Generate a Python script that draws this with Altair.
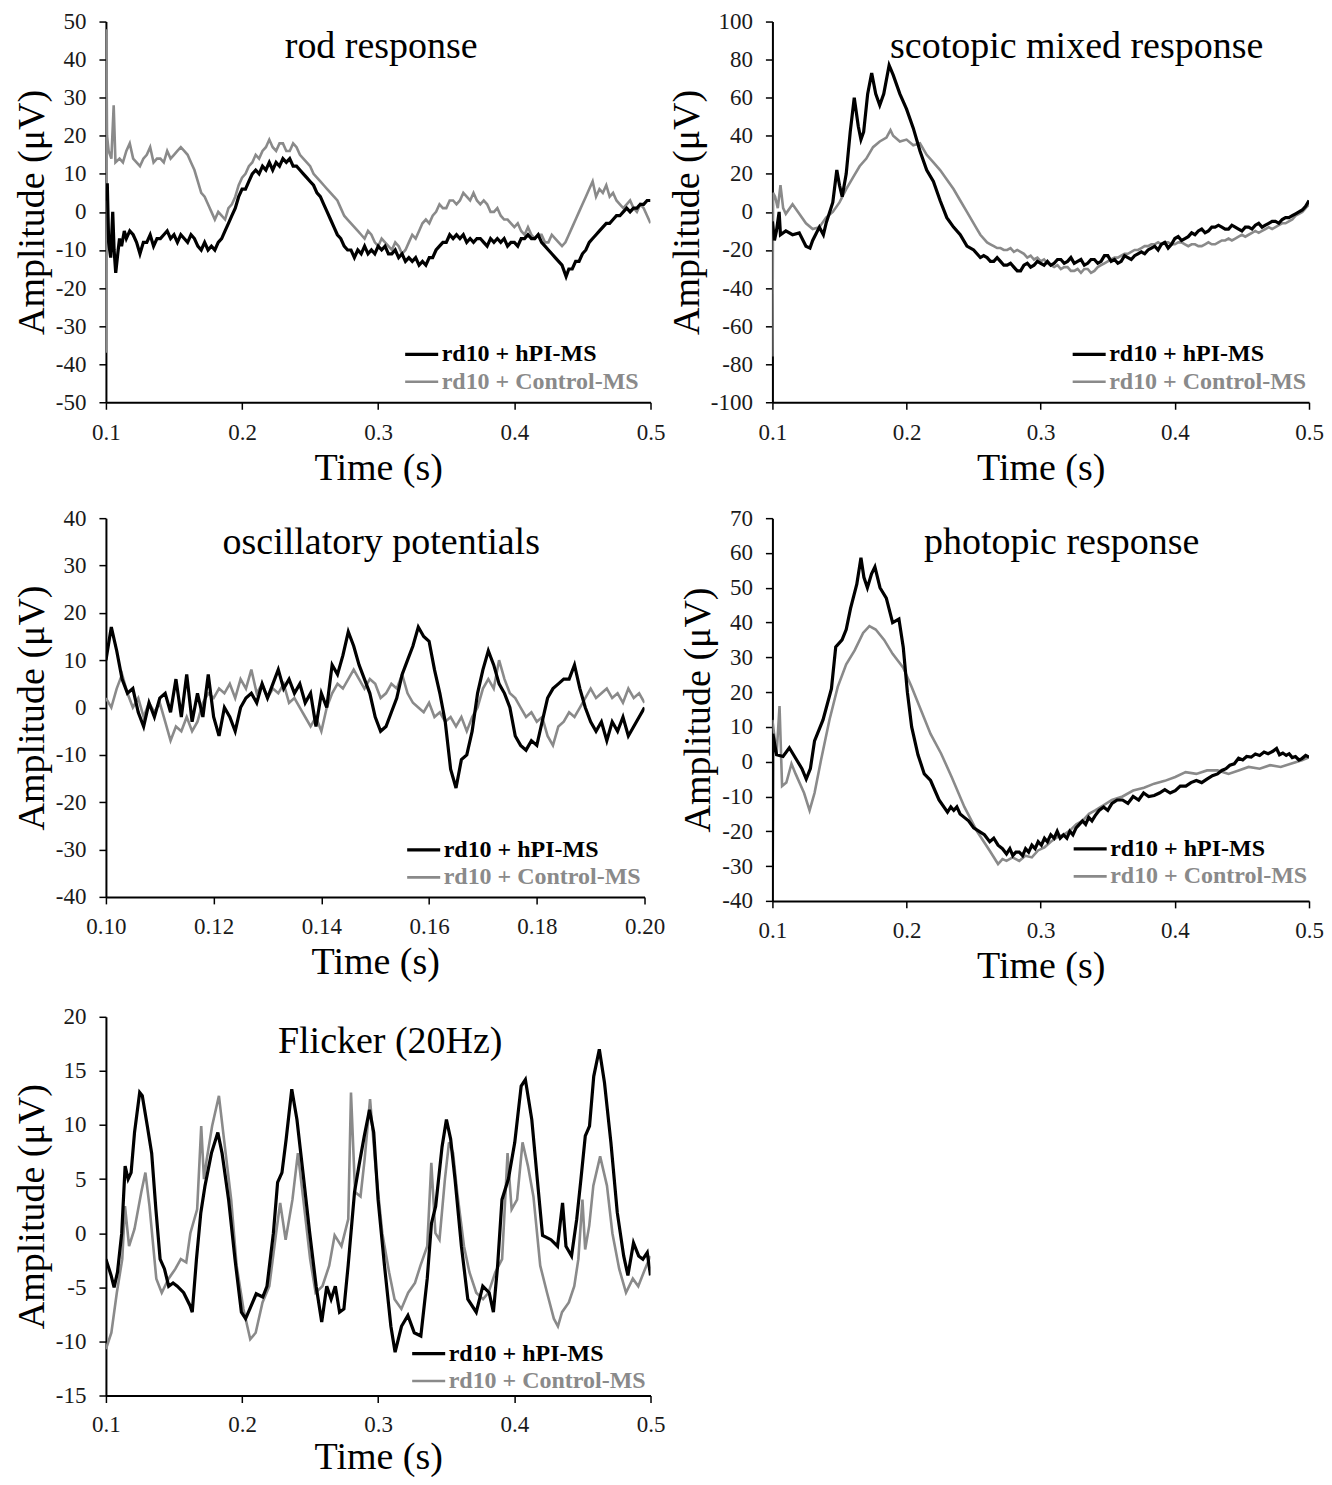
import altair as alt
import pandas as pd

FONT = "Liberation Serif"
SERIES = ["rd10 + hPI-MS", "rd10 + Control-MS"]
COLORS = ["#000000", "#8a8a8a"]
WIDTHS = [3.2, 2.6]

# ---------------- rod response ----------------
rod_hpi = [(0.100,3),(0.101,7.5),(0.102,-8),(0.1035,-12),(0.105,0),(0.106,-10),(0.1072,-16),(0.109,-10),
           (0.110,-7),(0.1115,-9),(0.1135,-5),(0.115,-7),(0.1175,-5),(0.120,-6),(0.1225,-8),(0.125,-11),
           (0.1275,-8),(0.130,-8),(0.1325,-6),(0.135,-9),(0.1375,-7),(0.140,-7),(0.1425,-6),(0.145,-5),
           (0.1475,-7),(0.150,-6),(0.1525,-8),(0.155,-6),(0.1575,-7),(0.160,-8),(0.1625,-6),(0.165,-7),
           (0.1675,-9),(0.170,-10),(0.1725,-8),(0.175,-10),(0.1775,-9),(0.180,-10),(0.1825,-8),(0.185,-7),
           (0.1875,-5),(0.190,-3),(0.1925,-1),(0.195,1),(0.1975,4),(0.200,6),(0.2025,6),(0.205,8),
           (0.2075,10),(0.210,11),(0.2125,10),(0.215,12),(0.2175,11),(0.220,13),(0.2225,11),(0.225,13),
           (0.2275,12),(0.230,14),(0.2325,13),(0.235,14),(0.2375,12),(0.240,12),(0.2425,11),(0.245,10),
           (0.2475,9),(0.250,8),(0.2525,7),(0.255,5),(0.2575,4),(0.260,2),(0.2625,0),(0.265,-2),
           (0.2675,-4),(0.270,-6),(0.2725,-7),(0.275,-9),(0.2775,-10),(0.280,-10),(0.2825,-12),(0.285,-10),
           (0.2875,-11),(0.290,-9),(0.2925,-11),(0.295,-10),(0.2975,-11),(0.300,-9),(0.3025,-10),(0.305,-9),
           (0.3075,-11),(0.310,-11),(0.3125,-10),(0.315,-12),(0.3175,-11),(0.320,-13),(0.3225,-12),(0.325,-13),
           (0.3275,-12),(0.330,-14),(0.3325,-13),(0.335,-14),(0.3375,-12),(0.340,-12),(0.3425,-10),(0.345,-9),
           (0.3475,-8),(0.350,-8),(0.3525,-6),(0.355,-7),(0.3575,-6),(0.360,-7),(0.3625,-6),(0.365,-8),
           (0.3675,-7),(0.370,-8),(0.3725,-7),(0.375,-7),(0.3775,-8),(0.380,-9),(0.3825,-7),(0.385,-8),
           (0.3875,-7),(0.390,-8),(0.3925,-7),(0.395,-9),(0.3975,-8),(0.400,-8),(0.4025,-9),(0.405,-7),
           (0.4075,-7),(0.410,-6),(0.4125,-7),(0.415,-7),(0.4175,-6),(0.420,-8),(0.4225,-9),(0.425,-10),
           (0.4275,-11),(0.430,-12),(0.4325,-13),(0.435,-14),(0.438,-17),(0.440,-15),(0.4425,-15),(0.445,-13),
           (0.4475,-13),(0.450,-11),(0.4525,-10),(0.455,-8),(0.4575,-7),(0.460,-6),(0.4625,-5),(0.465,-4),
           (0.4675,-3),(0.470,-3),(0.4725,-2),(0.475,-1),(0.4775,-1),(0.480,0),(0.4825,1),(0.485,0),
           (0.4875,1),(0.490,1),(0.4925,2),(0.495,2),(0.4975,3),(0.500,3)]
rod_ctrl = [(0.100,-37),(0.1003,48),(0.1008,20),(0.102,16),(0.104,14),(0.1057,28),(0.107,13),(0.110,14),
            (0.1125,13),(0.115,16),(0.1175,18),(0.120,14),(0.1225,13),(0.125,12),(0.1275,14),(0.130,15),
            (0.1325,17),(0.135,13),(0.1375,14),(0.140,14),(0.1425,13),(0.145,16),(0.1475,14),(0.150,15),
            (0.1525,16),(0.155,17),(0.1575,16),(0.160,15),(0.1625,13),(0.165,11),(0.1675,8),(0.170,5),
            (0.1725,4),(0.175,2),(0.1775,0),(0.180,-2),(0.1825,0),(0.185,-1),(0.1875,-2),(0.190,1),
            (0.1925,2),(0.195,4),(0.1975,7),(0.200,9),(0.2025,10),(0.205,12),(0.2075,13),(0.210,15),
            (0.2125,14),(0.215,16),(0.2175,17),(0.220,19),(0.2225,17),(0.225,16),(0.2275,18),(0.230,18),
            (0.2325,16),(0.235,16),(0.2375,18),(0.240,17),(0.2425,15),(0.245,14),(0.2475,13),(0.250,12),
            (0.2525,10),(0.255,9),(0.2575,8),(0.260,7),(0.2625,6),(0.265,5),(0.2675,4),(0.270,3),
            (0.2725,1),(0.275,-1),(0.2775,-2),(0.280,-3),(0.2825,-4),(0.285,-5),(0.2875,-6),(0.290,-7),
            (0.2925,-5),(0.295,-6),(0.2975,-8),(0.300,-9),(0.3025,-7),(0.305,-8),(0.3075,-9),(0.310,-10),
            (0.3125,-8),(0.315,-9),(0.3175,-11),(0.320,-10),(0.3225,-8),(0.325,-6),(0.3275,-7),(0.330,-5),
            (0.3325,-3),(0.335,-2),(0.3375,-3),(0.340,-1),(0.3425,0),(0.345,2),(0.3475,1),(0.350,1),
            (0.3525,3),(0.355,3),(0.3575,2),(0.360,3),(0.3625,5),(0.365,4),(0.3675,3),(0.370,5),
            (0.3725,3),(0.375,2),(0.3775,3),(0.380,2),(0.3825,0),(0.385,0),(0.3875,1),(0.390,-1),
            (0.3925,-2),(0.395,-2),(0.3975,-3),(0.400,-4),(0.4025,-3),(0.405,-5),(0.4075,-6),(0.410,-4),
            (0.4125,-6),(0.415,-7),(0.4175,-6),(0.420,-6),(0.4225,-8),(0.425,-8),(0.4275,-6),(0.430,-7),
            (0.4325,-8),(0.435,-9),(0.4375,-8),(0.440,-6),(0.4425,-4),(0.445,-2),(0.4475,0),(0.450,2),
            (0.4525,4),(0.455,6),(0.4575,8),(0.460,4),(0.4625,6),(0.465,5),(0.4675,7),(0.470,4),
            (0.4725,5),(0.475,3),(0.4775,2),(0.480,1),(0.4825,2),(0.485,3),(0.4875,1),(0.490,0),
            (0.4925,2),(0.495,1),(0.4975,-1),(0.500,-3)]

# ---------------- scotopic mixed response ----------------
sco_hpi = [(0.100,-5),(0.1015,-15),(0.103,-10),(0.105,0),(0.106,-12),(0.110,-10),(0.115,-12),(0.120,-11),
           (0.125,-18),(0.128,-19),(0.130,-15),(0.135,-8),(0.138,-12),(0.140,-6),(0.145,5),(0.148,22),
           (0.150,14),(0.152,8),(0.155,20),(0.158,42),(0.161,60),(0.164,45),(0.166,38),(0.168,42),
           (0.171,62),(0.174,73),(0.177,62),(0.180,56),(0.183,62),(0.187,77),(0.190,72),(0.195,62),
           (0.200,54),(0.205,44),(0.210,32),(0.215,22),(0.220,16),(0.225,6),(0.230,-3),(0.235,-8),
           (0.240,-12),(0.245,-18),
           (0.250,-20),(0.2525,-22),(0.255,-24),(0.2575,-23),(0.260,-24),(0.2625,-26),(0.265,-26),(0.2675,-24),
           (0.270,-26),(0.2725,-28),(0.275,-28),(0.2775,-27),(0.280,-29),(0.2825,-31),(0.285,-31),(0.2875,-28),
           (0.290,-27),(0.2925,-29),(0.295,-28),(0.2975,-26),(0.300,-27),(0.3025,-28),(0.305,-26),(0.3075,-28),
           (0.310,-27),(0.3125,-25),(0.315,-25),(0.3175,-27),(0.320,-26),(0.3225,-24),(0.325,-27),(0.3275,-26),
           (0.330,-25),(0.3325,-28),(0.335,-27),(0.3375,-25),(0.340,-25),(0.3425,-27),(0.345,-26),(0.3475,-23),
           (0.350,-23),(0.3525,-26),(0.355,-25),(0.3575,-27),(0.360,-26),(0.3625,-23),(0.365,-24),(0.3675,-25),
           (0.370,-23),(0.3725,-22),(0.375,-21),(0.3775,-22),(0.380,-20),(0.3825,-19),(0.385,-18),(0.3875,-20),
           (0.390,-17),(0.3925,-16),(0.395,-19),(0.3975,-17),(0.400,-14),(0.4025,-13),(0.405,-15),(0.4075,-14),
           (0.410,-13),(0.4125,-11),(0.415,-12),(0.4175,-10),(0.420,-9),(0.4225,-11),(0.425,-10),(0.4275,-8),
           (0.430,-8),(0.4325,-7),(0.435,-8),(0.4375,-9),(0.440,-9),(0.4425,-7),(0.445,-8),(0.4475,-9),
           (0.450,-10),(0.4525,-8),(0.455,-8),(0.4575,-9),(0.460,-7),(0.4625,-6),(0.465,-8),(0.4675,-7),
           (0.470,-6),(0.4725,-5),(0.475,-5),(0.4775,-6),(0.480,-4),(0.4825,-3),(0.485,-3),(0.4875,-2),
           (0.490,-1),(0.4925,0),(0.495,1),(0.4975,3),(0.500,6)]
sco_ctrl = [(0.100,-76),(0.1005,10),(0.102,8),(0.104,2),(0.106,14),(0.108,2),(0.110,-1),(0.115,4),
            (0.120,-1),(0.125,-6),(0.130,-9),(0.135,-8),(0.140,-3),(0.145,0),(0.150,5),(0.155,12),
            (0.160,18),(0.165,24),(0.170,28),(0.175,34),(0.180,37),(0.185,39),(0.188,43),(0.190,40),
            (0.195,37),(0.200,38),(0.205,35),(0.210,36),(0.215,30),(0.220,26),(0.225,22),(0.230,17),
            (0.235,12),(0.240,6),(0.245,0),
            (0.250,-6),(0.2525,-9),(0.255,-12),(0.2575,-14),(0.260,-16),(0.2625,-17),(0.265,-18),(0.2675,-19),
            (0.270,-19),(0.2725,-20),(0.275,-20),(0.2775,-19),(0.280,-21),(0.2825,-20),(0.285,-21),(0.2875,-22),
            (0.290,-24),(0.2925,-23),(0.295,-25),(0.2975,-24),(0.300,-26),(0.3025,-25),(0.305,-27),(0.3075,-28),
            (0.310,-29),(0.3125,-28),(0.315,-30),(0.3175,-29),(0.320,-29),(0.3225,-31),(0.325,-31),(0.3275,-30),
            (0.330,-32),(0.3325,-30),(0.335,-30),(0.3375,-32),(0.340,-31),(0.3425,-29),(0.345,-28),(0.3475,-27),
            (0.350,-26),(0.3525,-25),(0.355,-24),(0.3575,-24),(0.360,-23),(0.3625,-22),(0.365,-22),(0.3675,-21),
            (0.370,-20),(0.3725,-20),(0.375,-19),(0.3775,-18),(0.380,-18),(0.3825,-17),(0.385,-17),(0.3875,-16),
            (0.390,-17),(0.3925,-16),(0.395,-16),(0.3975,-17),(0.400,-17),(0.4025,-16),(0.405,-16),(0.4075,-17),
            (0.410,-18),(0.4125,-17),(0.415,-17),(0.4175,-18),(0.420,-18),(0.4225,-17),(0.425,-16),(0.4275,-17),
            (0.430,-17),(0.4325,-16),(0.435,-15),(0.4375,-15),(0.440,-14),(0.4425,-15),(0.445,-14),(0.4475,-13),
            (0.450,-12),(0.4525,-13),(0.455,-12),(0.4575,-11),(0.460,-10),(0.4625,-11),(0.465,-10),(0.4675,-9),
            (0.470,-8),(0.4725,-9),(0.475,-8),(0.4775,-7),(0.480,-6),(0.4825,-6),(0.485,-5),(0.4875,-4),
            (0.490,-2),(0.4925,-1),(0.495,0),(0.4975,2),(0.500,4)]

# ---------------- oscillatory potentials ----------------
op_t = [0.100,0.101,0.102,0.103,0.104,0.105,0.106,0.107,0.108,0.109,
        0.110,0.111,0.112,0.113,0.114,0.115,0.116,0.117,0.118,0.119,
        0.120,0.121,0.122,0.123,0.124,0.125,0.126,0.127,0.128,0.129,
        0.130,0.131,0.132,0.133,0.134,0.135,0.136,0.137,0.138,0.139,
        0.140,0.141,0.142,0.143,0.144,0.145,0.146,0.147,0.148,0.149,
        0.150,0.151,0.152,0.153,0.154,0.155,0.156,0.157,0.158,0.159,
        0.160,0.161,0.162,0.163,0.164,0.165,0.166,0.167,0.168,0.169,
        0.170,0.171,0.172,0.173,0.174,0.175,0.176,0.177,0.178,0.179,
        0.180,0.181,0.182,0.183,0.184,0.185,0.186,0.187,0.188,0.189,
        0.190,0.191,0.192,0.193,0.194,0.195,0.196,0.197,0.198,0.199,
        0.200]
op_hpi = [10,17,12,6,3,4,-1,-4,1,-2,
          2,3,-1,6,-2,7,-3,3,-2,7,
          -2,-6,0,-2,-5,0,2,3,1,5,
          2,5,8,4,6,3,5,1,3,-4,
          3,0,9,7,11,16,13,9,6,3,
          -2,-5,-4,-1,2,7,10,13,17,15,
          14,8,3,-3,-13,-17,-11,-10,-5,3,
          8,12,9,5,3,0,-6,-8,-9,-7,
          -8,-3,2,4,5,6,6,9,4,0,
          -3,-5,-3,-7,-3,-5,-2,-6,-4,-2,
          0]
op_ctrl = [2,0,4,7,3,0,2,-2,1,-1,
           1,-3,-7,-4,-5,-2,-5,-3,1,3,
           2,4,3,5,2,6,4,8,3,5,
           2,4,3,5,1,2,0,-2,-4,-2,
           -5,0,3,5,4,6,8,6,4,6,
           5,2,3,5,4,7,3,1,0,-1,
           1,-2,-1,-3,-2,-4,-2,-5,-2,0,
           4,6,4,10,6,3,2,0,-2,-1,
           -3,-2,-6,-8,-4,-3,-1,-2,0,2,
           4,2,3,4,2,3,1,4,2,3,
           1]

# ---------------- photopic response ----------------
pho_hpi = [(0.1000,-31),(0.1003,8),(0.1031,2),(0.1079,1.5),(0.1126,4),(0.1173,1),(0.1220,-2),(0.1252,-5),
           (0.1283,-2),(0.1314,6),(0.1377,12),(0.1440,21),(0.1472,33),(0.1519,35),(0.1550,38),(0.1582,44),
           (0.1629,51),(0.1660,58.6),(0.1682,53),(0.1708,50),(0.1739,54),(0.1764,56),(0.1802,50),(0.1849,47),
           (0.1896,40),(0.1943,41),(0.1975,33),(0.2006,20),(0.2038,10),(0.2085,2),(0.2132,-3.5),(0.2179,-5.4),
           (0.2242,-11),
           (0.2305,-14.5),(0.2330,-13),(0.2352,-14),(0.2375,-13),(0.2399,-15),(0.2430,-16),(0.2462,-17),(0.2500,-19),
           (0.2541,-20),(0.2580,-21),(0.2620,-23),(0.2650,-22),(0.2682,-24),(0.2715,-25),(0.2745,-26.5),(0.2770,-25),
           (0.2792,-27),(0.2815,-26),(0.2840,-26),(0.2865,-27),(0.2887,-25),(0.2910,-26),(0.2934,-24),(0.2958,-25),
           (0.2981,-23),(0.3005,-24),(0.3028,-22),(0.3050,-23),(0.3075,-21),(0.3100,-22),(0.3123,-20),(0.3145,-22),
           (0.3170,-21),(0.3195,-22),(0.3217,-20),(0.3240,-21),(0.3264,-19),(0.3288,-18),(0.3311,-17),(0.3335,-18),
           (0.3358,-16),(0.3382,-17),(0.3406,-15.5),(0.3435,-14),(0.3469,-13),(0.3500,-14),(0.3531,-12),(0.3570,-11),
           (0.3610,-11),(0.3650,-12),(0.3689,-10),(0.3730,-11),(0.3767,-9),(0.3805,-10),(0.3846,-9.7),(0.3885,-9),
           (0.3925,-8),(0.3965,-9),(0.4003,-8.3),(0.4040,-7),(0.4082,-7),(0.4120,-6),(0.4160,-5.4),(0.4200,-6),
           (0.4239,-5),(0.4280,-4),(0.4318,-3.5),(0.4350,-2.5),(0.4381,-2),(0.4410,-1),(0.4443,-0.6),(0.4475,1),
           (0.4506,0.5),(0.4535,1.5),(0.4569,1.3),(0.4600,2.2),(0.4632,1.8),(0.4665,2.8),(0.4695,2.3),(0.4730,3),
           (0.4758,3.8),(0.4780,2),(0.4805,2.5),(0.4830,1.8),(0.4852,2.3),(0.4875,1.2),(0.4899,1.5),(0.4925,0.5),
           (0.4947,0.9),(0.4975,1.8),(0.5000,1.3)]
pho_ctrl = [(0.1000,12),(0.1031,2),(0.1053,16),(0.1072,-7),(0.1104,-6),(0.1142,-0.6),(0.1173,-3.5),(0.1236,-9),
            (0.1277,-14),(0.1314,-9),(0.1362,0.4),(0.1425,12),(0.1487,21.5),(0.1550,28),(0.1613,32),(0.1676,37),
            (0.1723,39),(0.1770,38),(0.1833,35),(0.1896,31),(0.1975,27),(0.2038,21.5),(0.2116,14),(0.2179,8),
            (0.2258,2.3),(0.2336,-4.4),(0.2431,-13),(0.2525,-20),(0.2620,-25.6),
            (0.2682,-29.4),(0.2715,-28),(0.2745,-28.5),(0.2790,-27.5),(0.2840,-28.5),(0.2885,-27),(0.2934,-27.5),
            (0.2980,-25.5),(0.3028,-24.6),(0.3075,-23),(0.3123,-21.7),(0.3170,-21),(0.3217,-19.8),(0.3265,-18),
            (0.3311,-17),(0.3360,-15),(0.3406,-14),(0.3470,-12.5),(0.3531,-11),(0.3610,-10),(0.3689,-8.3),
            (0.3770,-7.5),(0.3846,-6.3),(0.3925,-5.5),(0.4003,-4.4),(0.4080,-3),(0.4160,-3.5),(0.4240,-2.5),
            (0.4318,-2.5),(0.4400,-3.5),(0.4475,-2.5),(0.4550,-1.5),(0.4632,-2),(0.4710,-1),(0.4789,-1.5),
            (0.4870,-0.5),(0.4947,0.4),(0.5000,1.3)]

# ---------------- flicker (20 Hz) ----------------
fli_hpi = [(0.1000,-2.4),(0.1038,-3.9),(0.1060,-5),(0.1085,-3.6),(0.1116,0),(0.1141,6.2),(0.1163,5),(0.1185,5.6),
           (0.1210,9.3),(0.1248,13),(0.1267,12.7),(0.1304,9.9),(0.1336,7.4),(0.1367,2.2),(0.1398,-2.4),(0.1430,-3.3),
           (0.1461,-4.9),(0.1493,-4.6),(0.1524,-4.9),(0.1571,-5.5),(0.1618,-6.7),(0.1634,-7.3),(0.1665,-2.4),(0.1697,1.9),
           (0.1728,4.4),(0.1775,7.4),(0.1822,9.3),(0.1853,7.4),(0.1901,3.1),(0.1948,-2.4),(0.1995,-7.3),(0.2026,-7.9),
           (0.2057,-7),(0.2104,-5.6),(0.2152,-5.9),(0.2183,-4.9),(0.2230,0),(0.2261,4.7),(0.2293,5.6),(0.2324,8.7),
           (0.2365,13.3),(0.2403,10.5),(0.2450,5.3),(0.2497,0),(0.2544,-4.9),(0.2585,-8.2),(0.2622,-4.9),(0.2654,-6.1),
           (0.2685,-4.9),(0.2716,-7.3),(0.2748,-7),(0.2779,-3),(0.2826,3.8),(0.2858,6.2),(0.2898,9),(0.2936,11.4),
           (0.2967,9.3),(0.2999,3.1),(0.3046,-3),(0.3093,-8.6),(0.3124,-11),(0.3171,-8.6),(0.3218,-7.6),(0.3265,-9.2),
           (0.3313,-9.5),(0.3360,-4.2),(0.3391,0.9),(0.3422,2.5),(0.3469,8),(0.3501,10.5),(0.3532,8.7),(0.3564,5),
           (0.3611,-1.2),(0.3658,-6.1),(0.3720,-7.3),(0.3768,-4.9),(0.3815,-5.5),(0.3846,-7.3),(0.3877,-3),(0.3909,3.1),
           (0.3956,5),(0.4003,8.4),(0.4050,13.6),(0.4081,14.2),(0.4128,10.5),(0.4175,4.1),(0.4207,-0.2),(0.4269,-0.6),
           (0.4317,-1.2),(0.4354,2.8),(0.4379,-1.2),(0.4420,-2.1),(0.4458,1.3),(0.4489,5),(0.4521,9),(0.4552,9.9),
           (0.4583,14.5),(0.4624,17),(0.4662,13.9),(0.4709,8.4),(0.4756,1.9),(0.4803,-2.1),(0.4834,-3.9),(0.4875,-0.9),
           (0.4913,-2.1),(0.4944,-2.4),(0.4976,-1.8),(0.5000,-3.9)]
fli_ctrl = [(0.100,-10.7),(0.104,-9.2),(0.108,-5.5),(0.112,-2.4),(0.114,2.5),(0.117,-1.2),(0.121,0.4),(0.126,3.8),
            (0.129,5.6),(0.132,2.5),(0.137,-4.2),(0.141,-5.5),(0.146,-4.2),(0.151,-3.3),(0.155,-2.4),(0.159,-2.7),
            (0.162,0),(0.167,2.2),(0.170,9.9),(0.172,5),(0.174,6.8),(0.178,9.9),(0.183,12.7),(0.187,8.4),
            (0.192,3.1),(0.196,-3),(0.201,-7),(0.206,-9.8),(0.210,-9.2),(0.215,-6.4),(0.220,-4.9),(0.225,0),
            (0.228,2.8),(0.232,-0.6),(0.237,3.1),(0.241,7.4),(0.245,3.1),(0.250,-2.4),(0.254,-5.5),(0.259,-4.9),
            (0.264,-3),(0.268,-0.2),(0.273,-1.2),(0.278,1.3),(0.280,13),(0.283,3.8),(0.287,3.4),(0.290,6.8),
            (0.294,12.4),(0.298,6.2),(0.303,0),(0.308,-3.6),(0.312,-6.1),(0.317,-7),(0.322,-5.5),(0.327,-4.6),
            (0.331,-3),(0.336,-1.2),(0.339,6.5),(0.342,0),(0.345,-0.6),(0.349,5),(0.352,8.4),(0.355,7.4),
            (0.358,3.8),(0.363,-1.2),(0.367,-3.6),(0.372,-5.5),(0.377,-6.1),(0.381,-5.5),(0.386,-3.6),(0.391,-2.4),
            (0.395,7.4),(0.398,2.2),(0.402,3.1),(0.406,8.4),(0.410,6.2),(0.414,3.4),(0.419,-3),(0.424,-5.5),
            (0.429,-7.9),(0.432,-8.6),(0.435,-7.3),(0.440,-6.4),(0.444,-4.9),(0.447,-2.4),(0.450,3.1),(0.452,-1.5),
            (0.455,0.7),(0.458,4.4),(0.463,7.1),(0.468,4.4),(0.472,0),(0.477,-3.3),(0.482,-5.5),(0.487,-4.2),
            (0.491,-4.9),(0.496,-3.3),(0.500,-2.1)]


def frame(a, b):
    da = pd.DataFrame(a, columns=["t", "v"]); da["s"] = SERIES[0]
    db = pd.DataFrame(b, columns=["t", "v"]); db["s"] = SERIES[1]
    return pd.concat([db, da], ignore_index=True)


MINUS = "datum.value < 0 ? '-' + format(-datum.value, 'd') : format(datum.value, 'd')"


def panel(df, title, title_dx, ydom, yticks, xdom, xticks, xfmt, w, h, lx, ly, xlp=12, xtp=5):
    return alt.Chart(df).mark_line(clip=True).encode(
        x=alt.X("t:Q", scale=alt.Scale(domain=xdom, nice=False, zero=False),
                axis=alt.Axis(values=xticks, format=xfmt, title="Time (s)",
                              labelPadding=xlp, titlePadding=xtp)),
        y=alt.Y("v:Q", scale=alt.Scale(domain=ydom, nice=False, zero=False),
                axis=alt.Axis(values=yticks, labelExpr=MINUS, title="Amplitude (μV)")),
        color=alt.Color("s:N", scale=alt.Scale(domain=SERIES, range=COLORS),
                        legend=alt.Legend(title=None, orient="none", legendX=lx, legendY=ly,
                                          symbolType="M-1.18,0H1.18", symbolSize=784, symbolStrokeWidth=3,
                                          labelFont=FONT, labelFontSize=24, labelFontWeight="bold",
                                          labelColor=alt.ExprRef(expr="datum.value == 'rd10 + hPI-MS' ? '#000000' : '#8a8a8a'"),
                                          labelOffset=4, rowPadding=0, padding=0, labelLimit=0)),
        strokeWidth=alt.StrokeWidth("s:N", scale=alt.Scale(domain=SERIES, range=WIDTHS), legend=None),
    ).properties(
        width=w, height=h,
        title=alt.TitleParams(title, font=FONT, fontSize=38, fontWeight="normal", color="#000000",
                              anchor="middle", baseline="top", offset=-55, dx=title_dx),
    )


X5 = [0.1, 0.2, 0.3, 0.4, 0.5]
p1 = panel(frame(rod_hpi, rod_ctrl), "rod response", 3, [-50, 50], list(range(-50, 51, 10)),
           [0.1, 0.5], X5, ".1f", 545, 381, 300, 317)
p2 = panel(frame(sco_hpi, sco_ctrl), "scotopic mixed response", 36, [-100, 100], list(range(-100, 101, 20)),
           [0.1, 0.5], X5, ".1f", 537, 381, 301, 317)
p3 = panel(pd.concat([pd.DataFrame({"t": op_t, "v": op_ctrl, "s": SERIES[1]}),
                      pd.DataFrame({"t": op_t, "v": op_hpi, "s": SERIES[0]})], ignore_index=True),
           "oscillatory potentials", 6, [-40, 40], list(range(-40, 41, 10)),
           [0.1, 0.2], [0.10, 0.12, 0.14, 0.16, 0.18, 0.20], ".2f", 539, 379, 302, 316)
p4 = panel(frame(pho_hpi, pho_ctrl), "photopic response", 21, [-40, 70], list(range(-40, 71, 10)),
           [0.1, 0.5], X5, ".1f", 537, 383, 302, 315)
p5 = panel(frame(fli_hpi, fli_ctrl), "Flicker (20Hz)", 12, [-15, 20], list(range(-15, 21, 5)),
           [0.1, 0.5], X5, ".1f", 545, 379, 307, 321, xlp=11, xtp=2)

chart = alt.concat(
    p1, p2, p3, p4, p5, columns=2,
    spacing={"row": 116, "column": 122}, bounds="flush",
    padding={"left": 5, "top": 2, "right": 0, "bottom": 0},
).resolve_scale(
    color="independent", strokeWidth="independent", x="independent", y="independent"
).configure_view(
    stroke=None
).configure_axis(
    domainColor="#000000", domainWidth=2, tickColor="#000000", tickWidth=1.5, tickSize=7,
    labelFont=FONT, labelFontSize=23, labelColor="#1a1a1a",
    labelFlush=False, labelOverlap=False,
    titleFont=FONT, titleFontSize=38, titleFontWeight="normal", titleColor="#000000", grid=False,
).configure_axisY(titlePadding=4, labelPadding=13)

chart.save("out.html", embed_options={"renderer": "svg", "actions": False})
